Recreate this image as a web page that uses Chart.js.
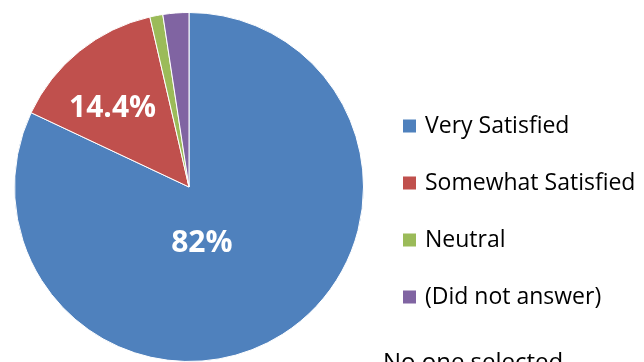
<!DOCTYPE html>
<html>
<head>
<meta charset="utf-8">
<script src="https://cdn.jsdelivr.net/npm/chart.js@4"></script>
<style>
  body { margin: 0; background: #fff; }
  canvas { display: block; }
</style>
</head>
<body>
<canvas id="pie-chart" width="644" height="362"></canvas>
<script>
  let categories = ["Very Satisfied", "Somewhat Satisfied", "Neutral", "(Did not answer)"];
  let percentages = [82, 14.4, 1.2, 2.4];
  let sliceColors = ["#4f81bd", "#c0504d", "#9bbb59", "#8064a2"];
  let footnote = "No one selected";

  // slice labels, legend and footnote are drawn by hand
  let extrasPlugin = {
    id: "extras",
    afterDraw(chart) {
      let ctx = chart.ctx;
      let meta = chart.getDatasetMeta(0);
      ctx.save();

      // percentages inside the big slices (placed a bit off the mid angle, like Excel does)
      ctx.fillStyle = "#fff";
      ctx.font = "bold 30px 'Open Sans'";
      ctx.textAlign = "center";
      ctx.textBaseline = "middle";
      meta.data.forEach((arc, i) => {
        let value = percentages[i];
        if (value < 5) return;
        let p = arc.getProps(["x", "y", "startAngle", "endAngle", "outerRadius"], true);
        let big = value > 50;
        let mid = (p.startAngle + p.endAngle) / 2 + (big ? 0.34 : -0.09);
        let r = p.outerRadius * (big ? 0.33 : 0.63);
        ctx.fillText(value + "%", p.x + Math.cos(mid) * r, p.y + Math.sin(mid) * r);
      });

      // legend
      ctx.textAlign = "left";
      ctx.font = "23px 'Open Sans'";
      categories.forEach((label, i) => {
        let y = 126 + i * 57;
        ctx.fillStyle = sliceColors[i];
        ctx.fillRect(403, y - 6.5, 13, 13);
        ctx.fillStyle = "#000";
        ctx.fillText(label, 425, y);
      });

      ctx.font = "24px 'Open Sans'";
      ctx.textBaseline = "alphabetic";
      ctx.fillText(footnote, 383, 370);
      ctx.restore();
    }
  };

  let pieChart = new Chart(document.getElementById("pie-chart"), {
    type: "pie",
    data: {
      labels: categories,
      datasets: [
        {
          data: percentages,
          backgroundColor: sliceColors,
          borderColor: "#fff",
          borderWidth: 1,
        },
      ],
    },
    options: {
      responsive: false,
      animation: false,
      layout: {
        padding: { top: 12, right: 266, left: 0, bottom: 0 },
      },
      plugins: {
        legend: { display: false },
        tooltip: { enabled: false },
      },
    },
    plugins: [extrasPlugin],
  });
</script>
</body>
</html>
